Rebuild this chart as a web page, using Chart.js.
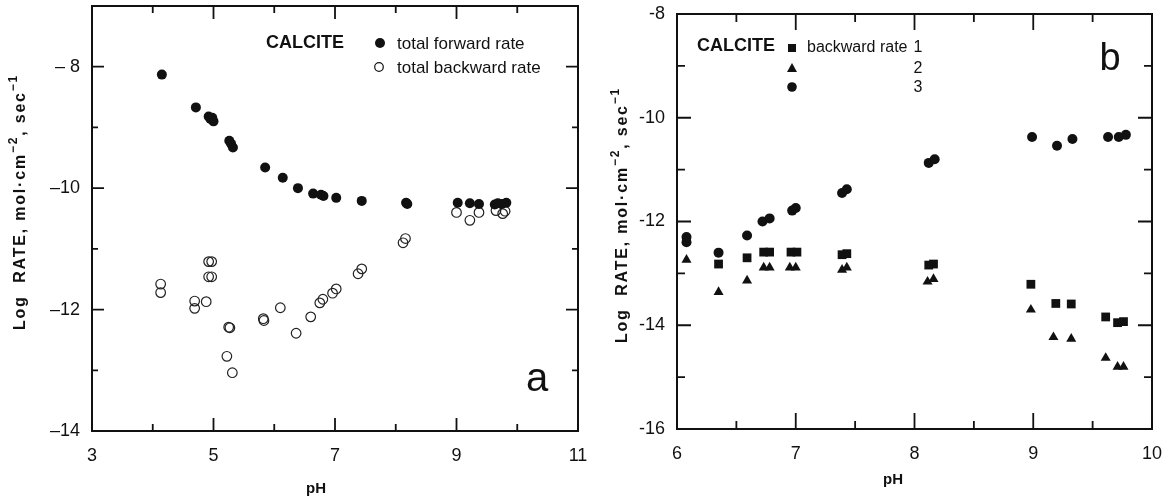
<!DOCTYPE html>
<html>
<head>
<meta charset="utf-8">
<script src="https://cdn.jsdelivr.net/npm/chart.js@4.4.1/dist/chart.umd.min.js"></script>
<style>
    body { margin: 0; background: #fff; }
    #wrapA { position: absolute; left: 0; top: 0; width: 590px; height: 501px; }
    #wrapB { position: absolute; left: 590px; top: 0; width: 584px; height: 501px; }
</style>
</head>
<body>
<div id="wrapA"><canvas id="chartA" width="590" height="501"></canvas></div>
<div id="wrapB"><canvas id="chartB" width="584" height="501"></canvas></div>
<script>

// panel a : total forward / backward rate
var fwdPH   = [4.15, 4.71, 4.92, 4.95, 4.98, 5.00, 5.26, 5.29, 5.32, 5.85, 6.14, 6.39, 6.64, 6.77, 6.81, 7.02, 7.44, 8.17, 8.19, 9.02, 9.22, 9.37, 9.63, 9.68, 9.75, 9.82];
var fwdRate = [-8.13, -8.67, -8.82, -8.86, -8.84, -8.90, -9.22, -9.27, -9.33, -9.66, -9.83, -10.00, -10.09, -10.11, -10.13, -10.16, -10.21, -10.24, -10.26, -10.24, -10.25, -10.26, -10.27, -10.25, -10.26, -10.24];

var bwdPH   = [4.13, 4.13, 4.69, 4.69, 4.88, 4.92, 4.97, 4.92, 4.97, 5.22, 5.25, 5.27, 5.31, 5.82, 5.83, 6.10, 6.36, 6.60, 6.75, 6.80, 6.96, 7.02, 7.38, 7.44, 8.12, 8.16, 9.00, 9.22, 9.37, 9.65, 9.76, 9.80];
var bwdRate = [-11.58, -11.72, -11.86, -11.98, -11.87, -11.21, -11.21, -11.46, -11.46, -12.77, -12.29, -12.30, -13.04, -12.15, -12.18, -11.97, -12.39, -12.12, -11.89, -11.83, -11.73, -11.66, -11.41, -11.33, -10.90, -10.83, -10.40, -10.53, -10.40, -10.37, -10.42, -10.38];

// panel b : backward rates 1, 2, 3
var rate1PH = [6.08, 6.35, 6.59, 6.73, 6.78, 6.96, 7.01, 7.39, 7.43, 8.12, 8.16, 8.98, 9.19, 9.32, 9.61, 9.71, 9.76];
var rate1   = [-12.36, -12.82, -12.70, -12.59, -12.59, -12.59, -12.59, -12.64, -12.62, -12.84, -12.82, -13.21, -13.58, -13.59, -13.84, -13.95, -13.93];

var rate2PH = [6.08, 6.35, 6.59, 6.73, 6.78, 6.95, 7.00, 7.39, 7.43, 8.11, 8.16, 8.98, 9.17, 9.32, 9.61, 9.71, 9.76];
var rate2   = [-12.74, -13.36, -13.14, -12.89, -12.89, -12.89, -12.89, -12.93, -12.89, -13.16, -13.11, -13.70, -14.23, -14.26, -14.63, -14.80, -14.80];

var rate3PH = [6.08, 6.08, 6.35, 6.59, 6.72, 6.78, 6.97, 7.00, 7.39, 7.43, 8.12, 8.17, 8.99, 9.20, 9.33, 9.63, 9.72, 9.78];
var rate3   = [-12.30, -12.40, -12.60, -12.27, -12.00, -11.94, -11.79, -11.74, -11.45, -11.38, -10.87, -10.80, -10.37, -10.54, -10.41, -10.37, -10.37, -10.33];

var ink = '#111';
var fontName = "'Liberation Sans', Arial, sans-serif";

// y title pieces: [text, isSuperscript]
var yTitleParts = [['Log  RATE, mol\u00b7cm', false], ['\u22122', true], [', sec', false], ['\u22121', true]];

function toPoints(xs, ys) {
    return xs.map(function (x, i) { return { x: x, y: ys[i] }; });
}

// frame with inward ticks on all four sides
function makeFrame(xMajor, yMajor, longX, shortX, longY, shortY) {
    return {
        id: 'frame',
        afterDraw: function (chart) {
            var ctx = chart.ctx, a = chart.chartArea;
            var xs = chart.scales.x, ys = chart.scales.y;
            ctx.save();
            ctx.strokeStyle = ink;
            ctx.lineWidth = 2;
            ctx.strokeRect(a.left, a.top, a.right - a.left, a.bottom - a.top);
            ctx.lineWidth = 1.8;
            ctx.beginPath();
            xs.ticks.forEach(function (t) {
                var px = xs.getPixelForValue(t.value);
                var len = xMajor(t.value) ? longX : shortX;
                ctx.moveTo(px, a.bottom); ctx.lineTo(px, a.bottom - len);
                ctx.moveTo(px, a.top); ctx.lineTo(px, a.top + len);
            });
            ys.ticks.forEach(function (t) {
                var py = ys.getPixelForValue(t.value);
                var len = yMajor(t.value) ? longY : shortY;
                ctx.moveTo(a.left, py); ctx.lineTo(a.left + len, py);
                ctx.moveTo(a.right, py); ctx.lineTo(a.right - len, py);
            });
            ctx.stroke();
            ctx.restore();
        }
    };
}

function makeNotes(draw) {
    return {
        id: 'notes',
        afterDraw: function (chart) {
            var ctx = chart.ctx;
            ctx.save();
            ctx.fillStyle = ink;
            ctx.strokeStyle = ink;
            draw(ctx);
            ctx.restore();
        }
    };
}

function sideTitle(ctx, x, y) {
    var big = 'bold 16px ' + fontName, small = 'bold 12px ' + fontName;
    ctx.save();
    ctx.translate(x, y);
    ctx.rotate(-Math.PI / 2);
    ctx.letterSpacing = '1.8px';
    ctx.textBaseline = 'middle';
    ctx.textAlign = 'left';
    var total = 0;
    yTitleParts.forEach(function (p) {
        ctx.font = p[1] ? small : big;
        total += ctx.measureText(p[0]).width;
    });
    var cx = -total / 2;
    yTitleParts.forEach(function (p) {
        ctx.font = p[1] ? small : big;
        ctx.fillText(p[0], cx, p[1] ? -7 : 0);
        cx += ctx.measureText(p[0]).width;
    });
    ctx.restore();
}

function axisBase(min, max, step, fmt, pad) {
    return {
        type: 'linear',
        min: min,
        max: max,
        grid: { display: false, drawTicks: false },
        border: { display: false },
        ticks: {
            stepSize: step,
            autoSkip: false,
            maxRotation: 0,
            padding: pad,
            color: ink,
            font: { family: fontName, size: 18 },
            callback: fmt
        }
    };
}

function fixWidth(w) {
    return function (s) { s.width = w; s.paddingTop = 0; s.paddingBottom = 0; };
}
function fixHeight(h) {
    return function (s) { s.height = h; s.paddingLeft = 0; s.paddingRight = 0; };
}

// ---------- panel a ----------
var axA = axisBase(3, 11, 1, function (v) { return v % 2 === 1 ? String(v) : ''; }, 14);
axA.afterFit = fixHeight(70);
var ayA = axisBase(-14, -7, 1, function (v) {
    if (v % 2 !== 0) return '';
    return v === -8 ? '\u2013 8' : '\u2013' + Math.abs(v);
}, 12);
ayA.afterFit = fixWidth(92);

new Chart(document.getElementById('chartA'), {
    type: 'scatter',
    data: {
        datasets: [{
            label: 'total forward rate',
            data: toPoints(fwdPH, fwdRate),
            pointStyle: 'circle',
            pointRadius: 5,
            backgroundColor: ink,
            borderColor: ink,
            borderWidth: 0
        }, {
            label: 'total backward rate',
            data: toPoints(bwdPH, bwdRate),
            pointStyle: 'circle',
            pointRadius: 4.8,
            backgroundColor: 'rgba(0,0,0,0)',
            borderColor: '#222',
            borderWidth: 1.2
        }]
    },
    options: {
        responsive: false,
        animation: false,
        layout: { padding: { left: 0, top: 5, right: 12, bottom: 0 } },
        plugins: { legend: { display: false }, tooltip: { enabled: false } },
        scales: { x: axA, y: ayA }
    },
    plugins: [
        makeFrame(function (v) { return v % 2 === 1; }, function (v) { return v % 2 === 0; }, 13, 7, 12, 6),
        makeNotes(function (ctx) {
            ctx.font = 'bold 18px ' + fontName;
            ctx.textAlign = 'center';
            ctx.textBaseline = 'middle';
            ctx.fillText('CALCITE', 305, 43);

            ctx.beginPath(); ctx.arc(380, 43, 5, 0, Math.PI * 2); ctx.fill();
            ctx.lineWidth = 1.2;
            ctx.beginPath(); ctx.arc(379, 67, 4.3, 0, Math.PI * 2); ctx.stroke();

            ctx.font = '17px ' + fontName;
            ctx.textAlign = 'left';
            ctx.fillText('total forward rate', 397, 44);
            ctx.fillText('total backward rate', 397, 68);

            ctx.font = '40px ' + fontName;
            ctx.textAlign = 'center';
            ctx.fillText('a', 537, 380);

            ctx.font = 'bold 15px ' + fontName;
            ctx.fillText('pH', 316, 489);

            sideTitle(ctx, 21, 202);
        })
    ]
});

// ---------- panel b ----------
var axB = axisBase(6, 10, 0.5, function (v) { return Number.isInteger(v) ? String(v) : ''; }, 14);
axB.afterFit = fixHeight(72);
var ayB = axisBase(-16, -8, 1, function (v) { return v % 2 === 0 ? '-' + Math.abs(v) : ''; }, 12);
ayB.afterFit = fixWidth(87);

new Chart(document.getElementById('chartB'), {
    type: 'scatter',
    data: {
        datasets: [{
            label: 'backward rate 1',
            data: toPoints(rate1PH, rate1),
            pointStyle: 'rect',
            pointRadius: 6.2,
            backgroundColor: ink,
            borderColor: ink,
            borderWidth: 0
        }, {
            label: '2',
            data: toPoints(rate2PH, rate2),
            pointStyle: 'triangle',
            pointRadius: 5.8,
            backgroundColor: ink,
            borderColor: ink,
            borderWidth: 0
        }, {
            label: '3',
            data: toPoints(rate3PH, rate3),
            pointStyle: 'circle',
            pointRadius: 5,
            backgroundColor: ink,
            borderColor: ink,
            borderWidth: 0
        }]
    },
    options: {
        responsive: false,
        animation: false,
        layout: { padding: { left: 0, top: 14, right: 22, bottom: 0 } },
        plugins: { legend: { display: false }, tooltip: { enabled: false } },
        scales: { x: axB, y: ayB }
    },
    plugins: [
        makeFrame(function (v) { return Number.isInteger(v); }, function (v) { return v % 2 === 0; }, 16, 8, 14, 8),
        makeNotes(function (ctx) {
            ctx.font = 'bold 18px ' + fontName;
            ctx.textAlign = 'center';
            ctx.textBaseline = 'middle';
            ctx.fillText('CALCITE', 146, 46);

            // legend markers
            ctx.fillRect(198, 44, 8, 8);
            ctx.beginPath();
            ctx.moveTo(202, 63); ctx.lineTo(207, 72); ctx.lineTo(197, 72); ctx.closePath();
            ctx.fill();
            ctx.beginPath(); ctx.arc(202, 87, 4.8, 0, Math.PI * 2); ctx.fill();

            ctx.font = '16px ' + fontName;
            ctx.textAlign = 'left';
            ctx.fillText('backward rate', 217, 48);
            ctx.textAlign = 'center';
            ctx.fillText('1', 328, 48);
            ctx.fillText('2', 328, 69);
            ctx.fillText('3', 328, 88);

            ctx.font = '38px ' + fontName;
            ctx.fillText('b', 520, 60);

            ctx.font = 'bold 15px ' + fontName;
            ctx.fillText('pH', 303, 480);

            sideTitle(ctx, 33, 215);
        })
    ]
});
</script>
</body>
</html>
